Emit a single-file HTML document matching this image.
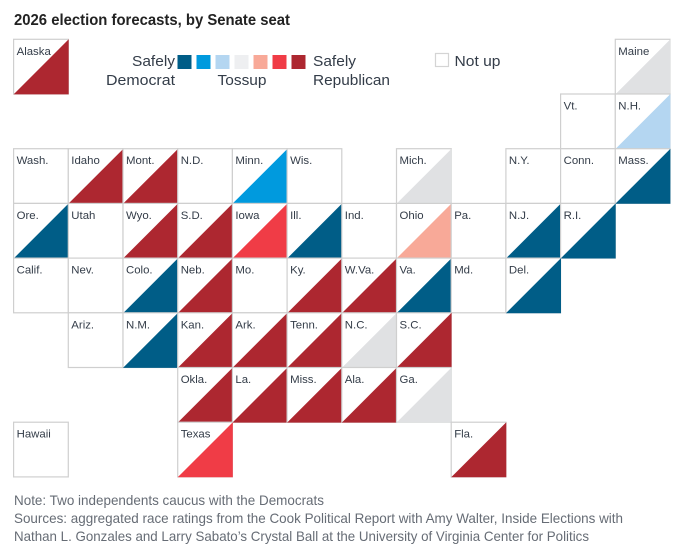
<!DOCTYPE html>
<html lang="en">
<head>
<meta charset="utf-8">
<title>2026 election forecasts, by Senate seat</title>
<style>
html,body{margin:0;padding:0;background:#fff;}
body{width:680px;height:554px;overflow:hidden;}
svg{display:block;font-family:"Liberation Sans",sans-serif;}
</style>
</head>
<body>
<svg id="chart" width="680" height="554" viewBox="0 0 680 554" xmlns="http://www.w3.org/2000/svg">
  <rect x="0" y="0" width="680" height="554" fill="#fff"/>
  <text x="14" y="25" font-size="16" font-weight="700" fill="#222" textLength="276" lengthAdjust="spacingAndGlyphs">2026 election forecasts, by Senate seat</text>
  <g id="tiles"></g>
  <g id="legend">
    <text x="175" y="66" text-anchor="end" font-size="15" fill="#333c48" textLength="43" lengthAdjust="spacingAndGlyphs">Safely</text>
    <text x="175" y="85" text-anchor="end" font-size="15" fill="#333c48" textLength="69" lengthAdjust="spacingAndGlyphs">Democrat</text>
    <text x="242" y="85" text-anchor="middle" font-size="15" fill="#333c48" textLength="49" lengthAdjust="spacingAndGlyphs">Tossup</text>
    <text x="313" y="66" font-size="15" fill="#333c48" textLength="43" lengthAdjust="spacingAndGlyphs">Safely</text>
    <text x="313" y="85" font-size="15" fill="#333c48" textLength="77" lengthAdjust="spacingAndGlyphs">Republican</text>
    <rect x="435.5" y="53.5" width="13" height="13" fill="#fff" stroke="#d4d4d4" stroke-width="1.2"/>
    <text x="454.5" y="66" font-size="15" fill="#333c48" textLength="46" lengthAdjust="spacingAndGlyphs">Not up</text>
  </g>
  <g font-size="14" fill="#666c75">
    <text x="14" y="505" textLength="310" lengthAdjust="spacingAndGlyphs">Note: Two independents caucus with the Democrats</text>
    <text x="14" y="523" textLength="609" lengthAdjust="spacingAndGlyphs">Sources: aggregated race ratings from the Cook Political Report with Amy Walter, Inside Elections with</text>
    <text x="14" y="541" textLength="575" lengthAdjust="spacingAndGlyphs">Nathan L. Gonzales and Larry Sabato’s Crystal Ball at the University of Virginia Center for Politics</text>
  </g>
</svg>
<script>
// Rating of each seat: 0 not up, 1 safely D, 2 likely D, 3 lean D, 4 tossup, 5 lean R, 6 likely R, 7 safely R
const ratingLabels = ['not-up','safely-democrat','likely-democrat','lean-democrat','tossup','lean-republican','likely-republican','safely-republican'];
const seats = [
  'Alaska','Maine',
  'Vt.','N.H.',
  'Wash.','Idaho','Mont.','N.D.','Minn.','Wis.','Mich.','N.Y.','Conn.','Mass.',
  'Ore.','Utah','Wyo.','S.D.','Iowa','Ill.','Ind.','Ohio','Pa.','N.J.','R.I.',
  'Calif.','Nev.','Colo.','Neb.','Mo.','Ky.','W.Va.','Va.','Md.','Del.',
  'Ariz.','N.M.','Kan.','Ark.','Tenn.','N.C.','S.C.',
  'Okla.','La.','Miss.','Ala.','Ga.',
  'Hawaii','Texas','Fla.'
];
const seatRatings = [
  7,4,
  0,3,
  0,7,7,0,2,0,4,0,0,1,
  1,0,7,7,6,1,0,5,0,1,1,
  0,0,1,7,0,7,7,1,0,1,
  0,1,7,7,7,4,7,
  7,7,7,7,4,
  0,6,7
];
const seatColumns = [
  0,11,
  10,11,
  0,1,2,3,4,5,7,9,10,11,
  0,1,2,3,4,5,6,7,8,9,10,
  0,1,2,3,4,5,6,7,8,9,
  1,2,3,4,5,6,7,
  3,4,5,6,7,
  0,3,8
];
const seatRows = [
  0,0,
  1,1,
  2,2,2,2,2,2,2,2,2,2,
  3,3,3,3,3,3,3,3,3,3,3,
  4,4,4,4,4,4,4,4,4,4,
  5,5,5,5,5,5,5,
  6,6,6,6,6,
  7,7,7
];
const legendRatings = [1,2,3,4,5,6,7];

const ratingColor = r => ['none','#005d87','#009ade','#b4d6f1','#e0e1e3','#f8a998','#f03c46','#ad2730'][r];
const legendColor = r => r === 4 ? '#eeeff1' : ratingColor(r);
const cellSize = 54.7;
const colX = c => 13.6 + c * cellSize;
const rowY = r => 39.3 + r * cellSize;

const NS = 'http://www.w3.org/2000/svg';
const tiles = document.getElementById('tiles');
const legend = document.getElementById('legend');

seats.forEach((name, i) => {
  const x = colX(seatColumns[i]);
  const y = rowY(seatRows[i]);
  const slug = name.toLowerCase().replace(/[^a-z]+/g, '-').replace(/-$/, '');

  const g = document.createElementNS(NS, 'g');
  
  

  const box = document.createElementNS(NS, 'rect');
  
  
  box.setAttribute('x', x);
  box.setAttribute('y', y);
  box.setAttribute('width', cellSize);
  box.setAttribute('height', cellSize);
  box.setAttribute('fill', '#fff');
  box.setAttribute('stroke', '#cfcfcf');
  box.setAttribute('stroke-width', '1.2');
  g.appendChild(box);
  tiles.appendChild(g);
});

seats.forEach((name, i) => {
  const g = tiles.children[i];
  const x = colX(seatColumns[i]);
  const y = rowY(seatRows[i]);
  const rating = seatRatings[i];
  if (rating > 0) {
    const tri = document.createElementNS(NS, 'polygon');
    
    
    tri.setAttribute('points', (x + cellSize + 0.4) + ',' + y + ' ' + (x + cellSize + 0.4) + ',' + (y + cellSize + 0.4) + ' ' + x + ',' + (y + cellSize + 0.4));
    tri.setAttribute('fill', ratingColor(rating));
    g.appendChild(tri);
  }
  const label = document.createElementNS(NS, 'text');
  
  
  label.setAttribute('x', x + 3);
  label.setAttribute('y', y + 15.5);
  label.setAttribute('font-size', '11.4');
  label.setAttribute('fill', '#333c48');
  label.textContent = name;
  g.appendChild(label);
});

legendRatings.forEach((r, i) => {
  const s = document.createElementNS(NS, 'rect');
  
  
  s.setAttribute('x', 177.5 + i * 19);
  s.setAttribute('y', 55);
  s.setAttribute('width', 14);
  s.setAttribute('height', 14);
  s.setAttribute('fill', legendColor(r));
  legend.appendChild(s);
});
</script>
</body>
</html>
